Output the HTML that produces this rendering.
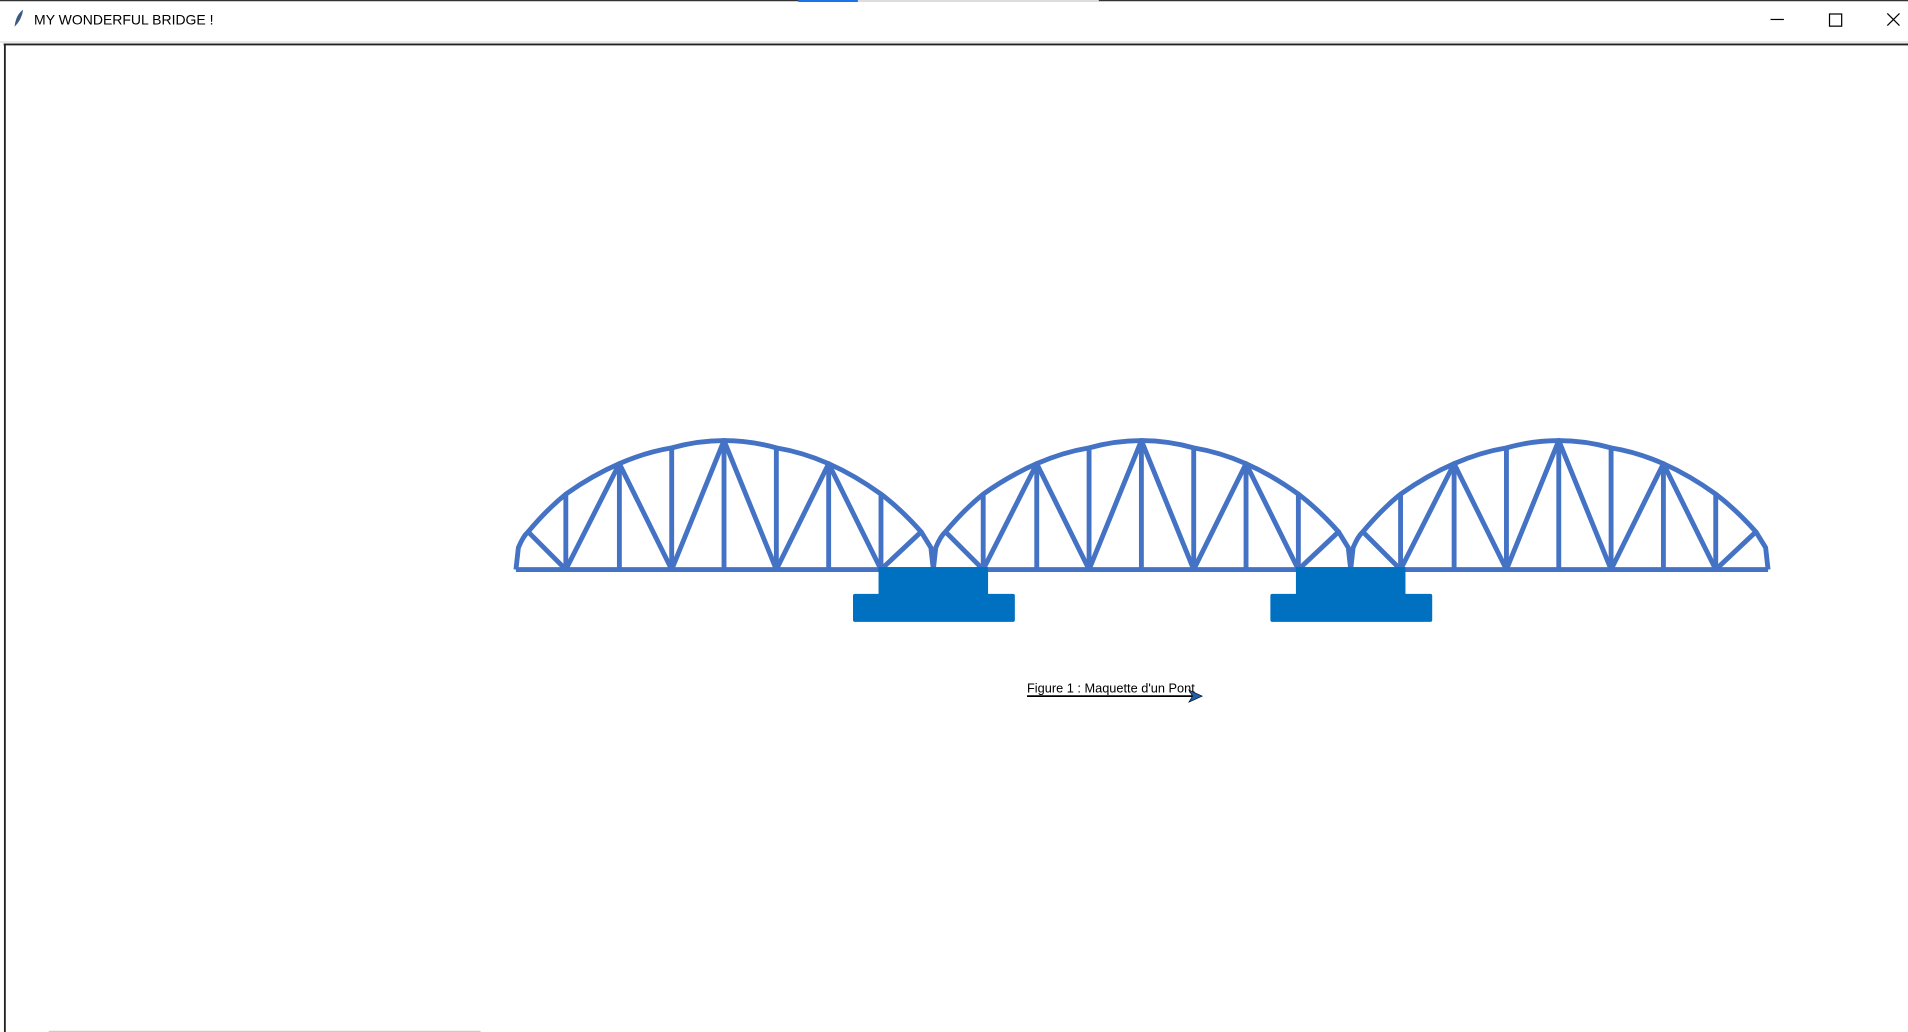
<!DOCTYPE html>
<html><head><meta charset="utf-8"><style>
html,body{margin:0;padding:0;background:#fff;width:1908px;height:1032px;overflow:hidden}
svg{display:block}
text{font-family:"Liberation Sans",sans-serif}
</style></head><body>
<svg id="s" width="1908" height="1032" viewBox="0 0 1568 848" preserveAspectRatio="none" xmlns="http://www.w3.org/2000/svg">
<rect x="0" y="0" width="1568" height="848" fill="#fff"/>
<g>
<line x1="0" y1="0.5" x2="1568" y2="0.5" stroke="#333" stroke-width="1"/>
<line x1="656" y1="0.8" x2="705" y2="0.8" stroke="#1a73e8" stroke-width="1.6"/>
<line x1="705" y1="0.8" x2="903" y2="0.8" stroke="#ddd" stroke-width="1.6"/>
<path d="M12 22 Q13 12 19 8 Q18 16 12 22 Z" fill="#3a5a80"/>
<text x="28" y="20" font-size="11.5" fill="#000">MY WONDERFUL BRIDGE !</text>
<line x1="1455" y1="16" x2="1466" y2="16" stroke="#000" stroke-width="1"/>
<rect x="1503.5" y="11.5" width="10" height="10" fill="none" stroke="#000" stroke-width="1"/>
<path d="M1551 11 L1561 21 M1561 11 L1551 21" stroke="#000" stroke-width="1"/>
</g>
<line x1="0" y1="34.5" x2="1568" y2="34.5" stroke="#ddd" stroke-width="1"/>
<g>
<line x1="3" y1="36.5" x2="1568" y2="36.5" stroke="#222" stroke-width="1.5"/>
<line x1="4" y1="36" x2="4" y2="848" stroke="#222" stroke-width="1.5"/>
<line x1="40" y1="847.5" x2="395" y2="847.5" stroke="#ccc" stroke-width="1"/>
</g>
<g id="bridge"></g>
<g>
<text x="844" y="569" font-size="10.5" fill="#000">Figure 1 : Maquette d'un Pont</text>
<line x1="844" y1="572" x2="982" y2="572" stroke="#000" stroke-width="1.5"/>
<path d="M977 567 L988 572 L977 577 L980 572 Z" fill="#1f5fa8" stroke="#000" stroke-width="0.5"/>
</g>
</svg>
<script>
const spanOffsets = [0, 343, 686];
const topNodesX = [424, 426, 434, 465, 509, 552, 595, 638, 681, 724, 757, 765, 767];
const topNodesY = [468, 450, 437, 406, 381, 368, 362, 368, 381, 406, 437, 450, 468];
const verticalsX = [465, 509, 552, 595, 638, 681, 724];
const verticalTopY = [406, 381, 368, 362, 368, 381, 406];
const diagFromIdx = [2, 4, 4, 6, 6, 8, 8, 10];
const diagBottomX = [465, 465, 552, 552, 638, 638, 724, 724];
const pierX = [722, 1065];
const deckY = 468;
const NS = "http://www.w3.org/2000/svg";
const g = document.getElementById('bridge');
const C = "#4472c4";
function mk(tag, attrs){const e=document.createElementNS(NS,tag);for(const k in attrs)e.setAttribute(k,attrs[k]);g.appendChild(e);return e;}
spanOffsets.forEach((off,si)=>{
  const sg = document.createElementNS(NS,'g');
  
  
  g.appendChild(sg);
  function add(tag, attrs){const e=document.createElementNS(NS,tag);for(const k in attrs)e.setAttribute(k,attrs[k]);sg.appendChild(e);return e;}
  let d = '';
  for (let i=0;i<topNodesX.length;i++){
    const x=topNodesX[i]+off, y=topNodesY[i];
    if(i===0){d+='M'+x+' '+y;}
    else if(i>=2 && i<=10){
      const px=topNodesX[i-1]+off, py=topNodesY[i-1];
      const mx=(px+x)/2, my=(py+y)/2 - 3;
      d+=' Q'+mx+' '+my+' '+x+' '+y;
    } else d+=' L'+x+' '+y;
  }
  const arch = add('path',{d:d,fill:'none',stroke:C,'stroke-width':4,'stroke-linejoin':'round'});
  
  const deck = add('line',{x1:topNodesX[0]+off,y1:deckY,x2:topNodesX[topNodesX.length-1]+off,y2:deckY,stroke:C,'stroke-width':4});
  
  verticalsX.forEach((vx,i)=>{
    const v = add('line',{x1:vx+off,y1:verticalTopY[i],x2:vx+off,y2:deckY,stroke:C,'stroke-width':4});
    
  });
  diagFromIdx.forEach((ti,i)=>{
    const dl = add('line',{x1:topNodesX[ti]+off,y1:topNodesY[ti],x2:diagBottomX[i]+off,y2:deckY,stroke:C,'stroke-width':4,'stroke-linecap':'round'});
    
  });
});
pierX.forEach((px,i)=>{
  const p1 = mk('rect',{x:px,y:466,width:90,height:23,fill:'#0070c0'});
  
  
  const p2 = mk('rect',{x:px-21,y:488,width:133,height:23,rx:1.5,fill:'#0070c0'});
  
  
});
</script>
</body></html>
